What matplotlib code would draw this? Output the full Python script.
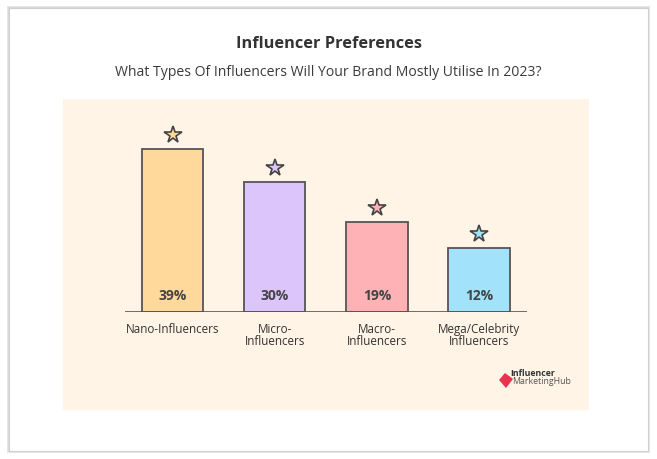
import matplotlib
matplotlib.use('Agg')
import matplotlib.pyplot as plt
from matplotlib.patches import Rectangle, Polygon

plt.rcParams['font.family'] = ['Open Sans', 'DejaVu Sans']

# chart data
categories = ["Nano-Influencers", "Micro-\nInfluencers", "Macro-\nInfluencers",
              "Mega/Celebrity\nInfluencers"]
shares = [39, 30, 19, 12]
bar_colors = ["#FFD99B", "#DCC5FA", "#FFB2B6", "#A2E3FB"]

title = "Influencer Preferences"
subtitle = "What Types Of Influencers Will Your Brand Mostly Utilise In 2023?"

# value axis of the original does not start at zero
y_min, y_max = -5.5, 52.6

W, H = 657, 460
fig = plt.figure(figsize=(W / 100, H / 100), dpi=100)
fig.patch.set_facecolor('white')

def fx(px):
    return px / W

def fy(py):
    return 1 - py / H

# card with soft shadow
for off, col in [(3, '#e6e6e6'), (2, '#dadada'), (1, '#d0d0d0')]:
    fig.patches.append(Rectangle((fx(9 - off + 1), fy(452 + off - 1)), fx(639 + 2 * off - 2),
                                 (443 + 2 * off - 2) / H, transform=fig.transFigure,
                                 facecolor=col, edgecolor='none', zorder=0))
fig.patches.append(Rectangle((fx(9), fy(452)), fx(639), 443 / H, transform=fig.transFigure,
                             facecolor='white', edgecolor='#d0d0d0', lw=0.8, zorder=0))
# cream panel
fig.patches.append(Rectangle((fx(63), fy(411)), fx(526), 311 / H, transform=fig.transFigure,
                             facecolor='#FFF4E6', edgecolor='none', zorder=1))

fig.text(0.5, fy(44), title, ha='center', va='center', fontsize=11.8,
         fontweight='bold', color='#333333')
fig.text(0.5, fy(73), subtitle, ha='center', va='center', fontsize=10.1, color='#3a3a3a')

# axes: baseline at y=313px, x from 125 to 527 px
ax = fig.add_axes([fx(125), fy(313), fx(402), 213 / H])
ax.patch.set_alpha(0)
ax.set_zorder(2)

x = list(range(len(shares)))
ax.bar(x, [v - y_min for v in shares], bottom=y_min, width=0.6, color=bar_colors,
       edgecolor='#555555', linewidth=1.3, zorder=3)
for xi, v, c in zip(x, shares, bar_colors):
    ax.plot(xi, v + 3.8, marker='*', markersize=13, markerfacecolor=c,
            markeredgecolor='#444444', markeredgewidth=1.2, zorder=4, clip_on=False)
    ax.text(xi, y_min + 4.6, f"{v}%", ha='center', va='center', fontsize=10,
            fontweight='bold', color='#444444', zorder=5)

ax.set_xlim(-0.466, 3.47)
ax.set_ylim(y_min, y_max)
ax.axhline(y_min, color='#555555', lw=1.2, zorder=4)
for s in ax.spines.values():
    s.set_visible(False)
ax.set_yticks([])
ax.set_xticks(x)
ax.set_xticklabels(categories, fontsize=8.4, color='#333333', linespacing=0.95, va='top')
ax.tick_params(axis='x', length=0, pad=7)

# logo
fig.patches.append(Polygon([(fx(499), fy(381)), (fx(505), fy(374)), (fx(513), fy(380)),
                            (fx(506), fy(389))], closed=True, transform=fig.transFigure,
                           facecolor='#E8344E', edgecolor='none', zorder=3))
fig.text(fx(510), fy(374), "Influencer", fontsize=6.3, fontweight='bold',
         color='#333333', va='center', ha='left', zorder=4)
fig.text(fx(512), fy(382), "MarketingHub", fontsize=6.3, color='#555555',
         va='center', ha='left', zorder=4)

fig.savefig('out.png', dpi=100, facecolor='white')
